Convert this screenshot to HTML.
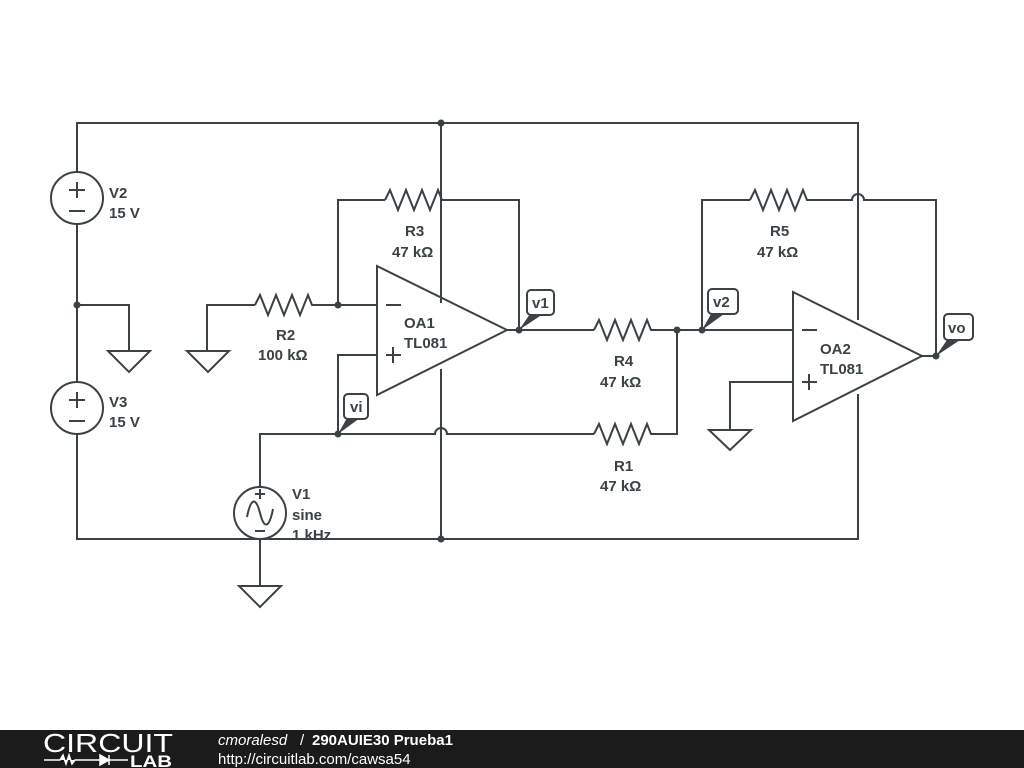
<!DOCTYPE html>
<html><head><meta charset="utf-8"><style>
html,body{margin:0;padding:0;background:#fff;width:1024px;height:768px;overflow:hidden}
svg{display:block}
text{font-family:"Liberation Sans",sans-serif;font-weight:bold;fill:#3a4245;font-size:15px}
</style></head><body>
<svg width="1024" height="768" viewBox="0 0 1024 768" xmlns="http://www.w3.org/2000/svg">
<defs>
<path id="res" d="M0,0 L5,-10 L13,10 L21,-10 L29,10 L37,-10 L45,10 L53,-10 L57,0 L60,0" fill="none"/>
</defs>
<g stroke="#3a4245" stroke-width="2" fill="none">
<!-- top & bottom rails -->
<path d="M77,172 V123 H858 V320"/>
<path d="M77,434 V539 H858 V394"/>
<!-- OA1 supply -->
<path d="M441,123 V303"/>
<path d="M441,369 V539"/>
<!-- V2 V3 -->
<circle cx="77" cy="198" r="26"/>
<circle cx="77" cy="408" r="26"/>
<path d="M77,224 V382"/>
<path d="M77,305 H129 V350"/>
<path d="M108,351 H150 L129,372 Z"/>
<path d="M69,190 H85 M77,182 V198 M69,211 H85"/>
<path d="M69,400 H85 M77,392 V408 M69,421 H85"/>
<!-- R2 -->
<path d="M207,351 V305 H255"/>
<path d="M187,351 H229 L208,372 Z"/>
<use href="#res" x="255" y="305"/>
<path d="M315,305 H377"/>
<!-- R3 -->
<path d="M338,305 V200 H385"/>
<use href="#res" x="385" y="200"/>
<path d="M445,200 H519 V330"/>
<!-- OA1 -->
<path d="M377,266 L507,330 L377,395 Z"/>
<path d="M386,305 H401 M386,355 H401 M393,347 V363"/>
<path d="M377,355 H338 V434"/>
<!-- vi wire and R1 -->
<path d="M260,487 V434 H435 A6,6 0 0 1 447,434 H594"/>
<use href="#res" x="594" y="434"/>
<path d="M654,434 H677 V330"/>
<!-- V1 -->
<circle cx="260" cy="513" r="26" fill="#fff"/>
<path d="M255,494 H265 M260,489 V499 M255,531 H265"/>
<path d="M247,517 C251,497 256,497 260,513 C264,529 269,529 273,509"/>
<path d="M260,539 V585"/>
<path d="M239,586 H281 L260,607 Z"/>
<!-- R4 -->
<path d="M507,330 H594"/>
<use href="#res" x="594" y="330"/>
<path d="M654,330 H793"/>
<!-- R5 -->
<path d="M702,330 V200 H750"/>
<use href="#res" x="750" y="200"/>
<path d="M810,200 H852 A6,6 0 0 1 864,200 H936 V356"/>
<!-- OA2 -->
<path d="M793,292 L922,356 L793,421 Z"/>
<path d="M802,330 H817 M802,382 H817 M809,374 V390"/>
<path d="M793,382 H730 V430"/>
<path d="M709,430 H751 L730,450 Z"/>
<path d="M922,356 H936"/>
</g>
<g fill="#3a4245">
<circle cx="441" cy="123" r="3.5"/><circle cx="441" cy="539" r="3.5"/>
<circle cx="77" cy="305" r="3.5"/><circle cx="338" cy="305" r="3.5"/>
<circle cx="519" cy="330" r="3.5"/><circle cx="338" cy="434" r="3.5"/>
<circle cx="677" cy="330" r="3.5"/><circle cx="702" cy="330" r="3.5"/>
<circle cx="936" cy="356" r="3.5"/>
<path d="M519,330 L530,314 L543,314 Z"/>
<path d="M338,434 L347,418 L360,418 Z"/>
<path d="M702,330 L711,314 L724,314 Z"/>
<path d="M936,356 L947,340 L960,340 Z"/>
</g>
<g fill="#fff" stroke="#3a4245" stroke-width="2">
<rect x="527" y="290" width="27" height="25" rx="4"/>
<rect x="344" y="394" width="24" height="25" rx="4"/>
<rect x="708" y="289" width="30" height="25" rx="4"/>
<rect x="944" y="314" width="29" height="26" rx="4"/>
</g>
<text x="532" y="308">v1</text>
<text x="350" y="412">vi</text>
<text x="713" y="307">v2</text>
<text x="948" y="333">vo</text>
<text x="109" y="198">V2</text><text x="109" y="218">15 V</text>
<text x="109" y="407">V3</text><text x="109" y="427">15 V</text>
<text x="292" y="499">V1</text><text x="292" y="520">sine</text><text x="292" y="540">1 kHz</text>
<text x="276" y="340">R2</text><text x="258" y="360">100 kΩ</text>
<text x="405" y="236">R3</text><text x="392" y="257">47 kΩ</text>
<text x="404" y="328">OA1</text><text x="404" y="348">TL081</text>
<text x="614" y="366">R4</text><text x="600" y="387">47 kΩ</text>
<text x="614" y="471">R1</text><text x="600" y="491">47 kΩ</text>
<text x="770" y="236">R5</text><text x="757" y="257">47 kΩ</text>
<text x="820" y="354">OA2</text><text x="820" y="374">TL081</text>
<!-- footer -->
<rect x="0" y="730" width="1024" height="38" fill="#1b1b1b"/>
<text x="43" y="752" textLength="130" lengthAdjust="spacingAndGlyphs" style="font-weight:normal;fill:#fff;font-size:26px">CIRCUIT</text>
<path d="M44,760 H60 L63,755 L66,764 L69,755 L72,764 L75,760 H100 M100,755 V765 L109,760 Z M109,755 V765 M109,760 H128" stroke="#fff" stroke-width="1.5" fill="#fff"/>
<text x="130" y="767" textLength="42" lengthAdjust="spacingAndGlyphs" style="fill:#fff;font-size:17px">LAB</text>
<text x="218" y="745" style="font-weight:normal;font-style:italic;fill:#fff;font-size:15px">cmoralesd</text>
<text x="300" y="745" style="font-weight:normal;fill:#fff;font-size:15px">/</text>
<text x="312" y="745" style="fill:#fff;font-size:15px">290AUIE30 Prueba1</text>
<text x="218" y="764" style="font-weight:normal;fill:#fff;font-size:15px">http://circuitlab.com/cawsa54</text>
</svg>
</body></html>
